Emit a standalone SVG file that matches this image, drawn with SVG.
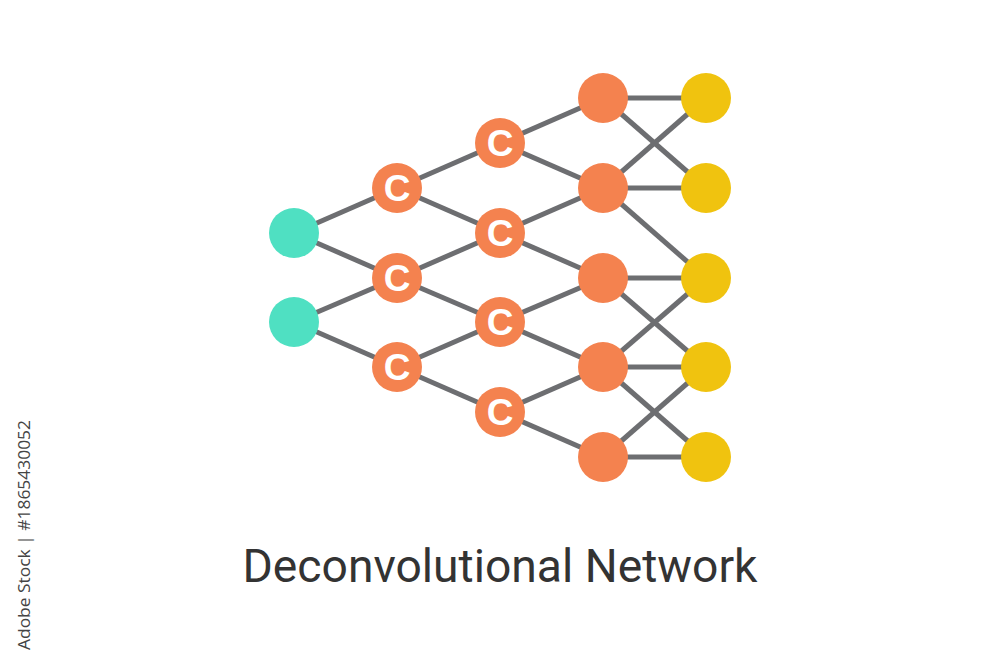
<svg xmlns="http://www.w3.org/2000/svg" width="1000" height="667" viewBox="0 0 1000 667">
<style>
.e{stroke:#6d6e71;stroke-width:5;fill:none}
.in{fill:#4fe0c2}
.or{fill:#f4824f}
.ye{fill:#f0c30f}
.c{fill:#ffffff;font-family:"Liberation Sans",Arial,sans-serif;font-weight:bold;font-size:37px;text-anchor:middle}
.t{fill:#333333;font-family:"Roboto","Liberation Sans",sans-serif;font-size:46px;text-anchor:middle}
.w{fill:#444444;font-family:"Open Sans","Liberation Sans",sans-serif;font-size:16px}
</style>
<defs>
<g id="cnode"><circle r="25" class="or"/><text class="c" y="13">C</text></g>
</defs>
<rect width="1000" height="667" fill="#ffffff"/>
<g id="connectors">
<line class="e" x1="294" y1="233" x2="397" y2="188"/>
<line class="e" x1="294" y1="233" x2="397" y2="278"/>
<line class="e" x1="294" y1="322" x2="397" y2="278"/>
<line class="e" x1="294" y1="322" x2="397" y2="367"/>
<line class="e" x1="397" y1="188" x2="500" y2="143"/>
<line class="e" x1="397" y1="188" x2="500" y2="233"/>
<line class="e" x1="397" y1="278" x2="500" y2="233"/>
<line class="e" x1="397" y1="278" x2="500" y2="322"/>
<line class="e" x1="397" y1="367" x2="500" y2="322"/>
<line class="e" x1="397" y1="367" x2="500" y2="412"/>
<line class="e" x1="500" y1="143" x2="603" y2="98"/>
<line class="e" x1="500" y1="143" x2="603" y2="188"/>
<line class="e" x1="500" y1="233" x2="603" y2="188"/>
<line class="e" x1="500" y1="233" x2="603" y2="278"/>
<line class="e" x1="500" y1="322" x2="603" y2="278"/>
<line class="e" x1="500" y1="322" x2="603" y2="367"/>
<line class="e" x1="500" y1="412" x2="603" y2="367"/>
<line class="e" x1="500" y1="412" x2="603" y2="457"/>
<line class="e" x1="603" y1="98" x2="706" y2="98"/>
<line class="e" x1="603" y1="98" x2="706" y2="188"/>
<line class="e" x1="603" y1="188" x2="706" y2="98"/>
<line class="e" x1="603" y1="188" x2="706" y2="188"/>
<line class="e" x1="603" y1="188" x2="706" y2="278"/>
<line class="e" x1="603" y1="278" x2="706" y2="278"/>
<line class="e" x1="603" y1="278" x2="706" y2="367"/>
<line class="e" x1="603" y1="367" x2="706" y2="278"/>
<line class="e" x1="603" y1="367" x2="706" y2="367"/>
<line class="e" x1="603" y1="367" x2="706" y2="457"/>
<line class="e" x1="603" y1="457" x2="706" y2="367"/>
<line class="e" x1="603" y1="457" x2="706" y2="457"/>
</g>
<g id="in1"><circle class="in" cx="294" cy="233" r="25"/></g>
<g id="in2"><circle class="in" cx="294" cy="322" r="25"/></g>
<g id="c1a"><use href="#cnode" x="397" y="188"/></g>
<g id="c1b"><use href="#cnode" x="397" y="278"/></g>
<g id="c1c"><use href="#cnode" x="397" y="367"/></g>
<g id="c2a"><use href="#cnode" x="500" y="143"/></g>
<g id="c2b"><use href="#cnode" x="500" y="233"/></g>
<g id="c2c"><use href="#cnode" x="500" y="322"/></g>
<g id="c2d"><use href="#cnode" x="500" y="412"/></g>
<g id="o1"><circle class="or" cx="603" cy="98" r="25"/></g>
<g id="o2"><circle class="or" cx="603" cy="188" r="25"/></g>
<g id="o3"><circle class="or" cx="603" cy="278" r="25"/></g>
<g id="o4"><circle class="or" cx="603" cy="367" r="25"/></g>
<g id="o5"><circle class="or" cx="603" cy="457" r="25"/></g>
<g id="y1"><circle class="ye" cx="706" cy="98" r="25"/></g>
<g id="y2"><circle class="ye" cx="706" cy="188" r="25"/></g>
<g id="y3"><circle class="ye" cx="706" cy="278" r="25"/></g>
<g id="y4"><circle class="ye" cx="706" cy="367" r="25"/></g>
<g id="y5"><circle class="ye" cx="706" cy="457" r="25"/></g>
<g id="title"><text class="t" x="500" y="582" textLength="515" lengthAdjust="spacingAndGlyphs">Deconvolutional Network</text></g>
<g id="credit"><text class="w" transform="translate(30,650) rotate(-90)" textLength="230" lengthAdjust="spacingAndGlyphs">Adobe Stock | #1865430052</text></g>
</svg>
